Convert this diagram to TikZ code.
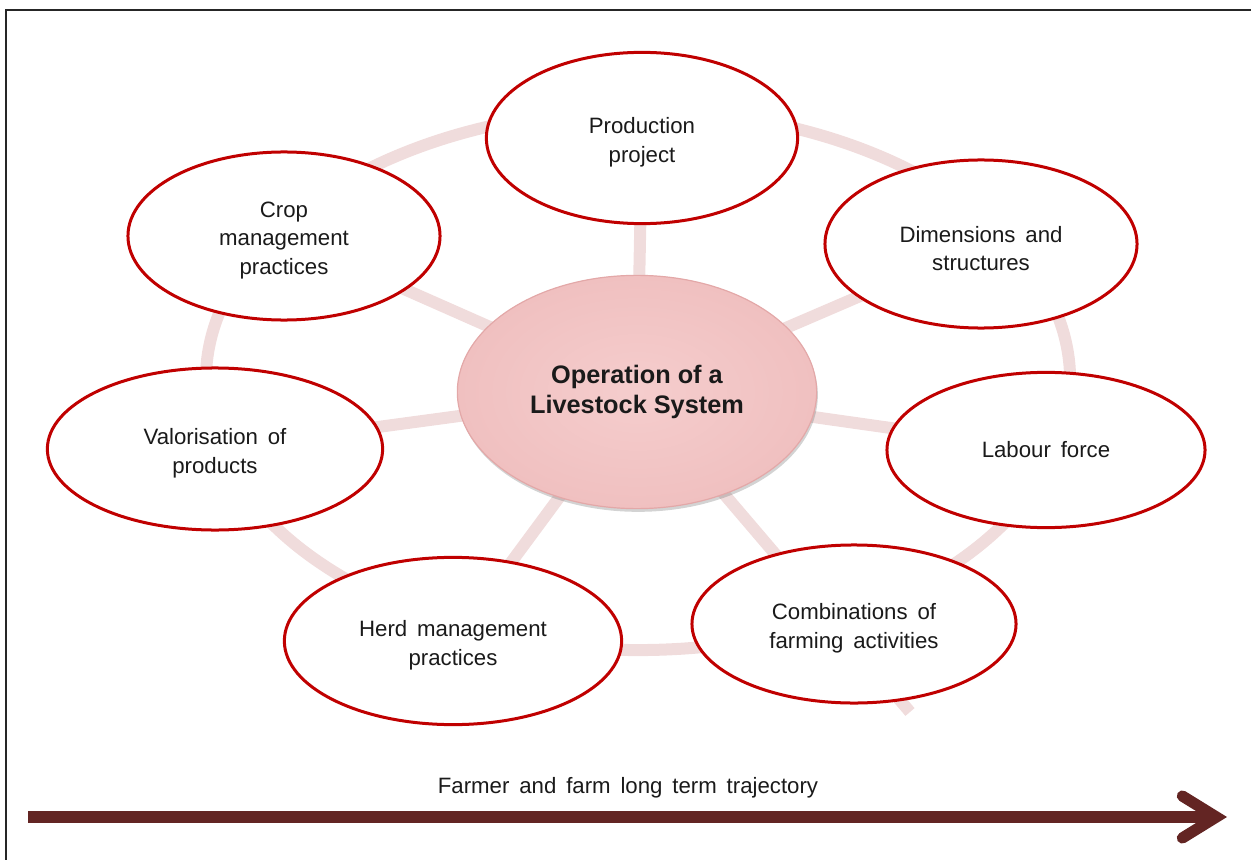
\documentclass[tikz,border=0pt]{standalone}
\usepackage{fontspec}
\setmainfont{Liberation Sans}[WordSpace=1.6]
\newfontfamily\hubfont{Liberation Sans}
\usepackage{tikz}
\usetikzlibrary{shapes.geometric,arrows.meta,backgrounds,shadows}
\definecolor{topicred}{HTML}{C00000}
\definecolor{ringpink}{HTML}{F0DCDC}
\definecolor{hubin}{HTML}{F5CDCD}
\definecolor{hubout}{HTML}{F0C0C0}
\definecolor{hubedge}{HTML}{E3A8A8}
\definecolor{trailbrown}{HTML}{632523}
\definecolor{inktext}{HTML}{1A1A1A}
\newcommand{\lowtext}{\rule{0pt}{17.5pt}}
\tikzstyle{every node}=[inner sep=0pt,align=center,text=inktext,font={\fontsize{15.8}{20}\selectfont}]
\tikzstyle{topic}=[ellipse,draw=topicred,line width=0.075cm,fill=white]
\tikzstyle{hub}=[ellipse,draw=hubedge,line width=0.03cm,inner color=hubin,outer color=hubout,drop shadow={opacity=0.35,shadow xshift=0.03cm,shadow yshift=-0.08cm},font={\hubfont\bfseries\fontsize{18}{21.5}\selectfont}]
\tikzstyle{spoke}=[draw=ringpink,line width=0.3cm]
\tikzstyle{frame}=[draw=black!85,line width=0.06cm]
\tikzstyle{trail}=[draw=trailbrown,line width=0.28cm,-{Straight Barb[length=0.85cm,width=1.05cm,line cap=round,line join=miter]}]

\begin{document}
\begin{tikzpicture}[x=0.025cm,y=-0.025cm]
\useasboundingbox (0,0) rectangle (1251,860);
\draw[frame] (6,860) -- (6,10) -- (1251,10);

% centre and the seven topics
\node[hub,minimum width=8.98cm,minimum height=5.83cm] (hub) at (637,392) {Operation of a\\Livestock System};
\node[topic,minimum width=7.78cm,minimum height=4.28cm] (prod) at (642,138) {\lowtext Production\\project};
\node[topic,minimum width=7.8cm,minimum height=4.2cm] (dims) at (981,244) {\lowtext Dimensions and\\structures};
\node[topic,minimum width=7.95cm,minimum height=3.88cm] (labour) at (1046,450) {Labour force};
\node[topic,minimum width=8.1cm,minimum height=3.95cm] (comb) at (854,624) {\lowtext Combinations of\\farming activities};
\node[topic,minimum width=8.43cm,minimum height=4.18cm] (herd) at (453,641) {\lowtext Herd management\\practices};
\node[topic,minimum width=8.38cm,minimum height=4.05cm] (valor) at (215,449) {\lowtext Valorisation of\\products};
\node[topic,minimum width=7.8cm,minimum height=4.2cm] (crop) at (284,236) {\lowtext Crop\\management\\practices};
\coordinate (combtail) at (910,712);

% ring and spokes behind
\begin{scope}[on background layer]
\draw[spoke] (638,380) ellipse [x radius=10.8cm,y radius=6.75cm];
\foreach \t in {prod,dims,labour,herd,valor,crop}
  \draw[spoke] (hub.center) -- (\t.center);
\draw[spoke] (hub.center) -- (combtail);
\end{scope}

% time line
\coordinate (tstart) at (28,817);
\coordinate (tend) at (1227,817);
\draw[trail] (tstart) -- (tend);
\node (traj) at (628,788) {Farmer and farm long term trajectory};
\end{tikzpicture}
\end{document}
